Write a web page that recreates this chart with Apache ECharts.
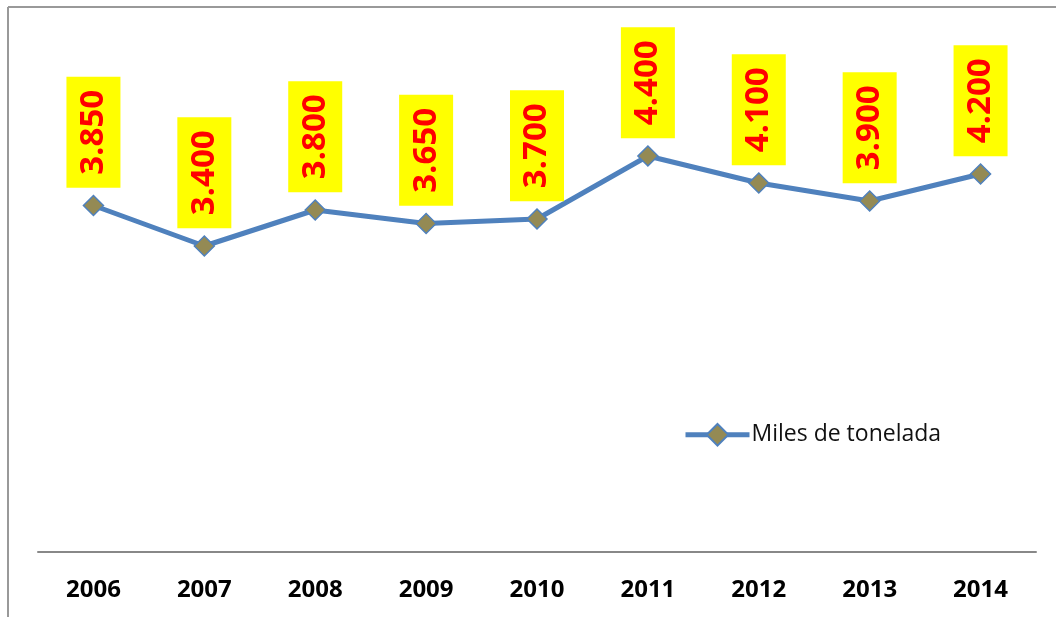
<!DOCTYPE html>
<html>
<head>
<meta charset="utf-8">
<script src="https://cdn.jsdelivr.net/npm/echarts@6/dist/echarts.min.js"></script>
<style>html,body{margin:0;padding:0;background:#fff;}#c{width:1056px;height:617px;}</style>
</head>
<body>
<div id="c"></div>
<script>
const years = ['2006','2007','2008','2009','2010','2011','2012','2013','2014'];
const values = [3.85, 3.40, 3.80, 3.65, 3.70, 4.40, 4.10, 3.90, 4.20];
const seriesName = 'Miles de tonelada';

const chart = echarts.init(document.getElementById('c'));
chart.setOption({
  animation: false,
  backgroundColor: '#fff',
  graphic: [
    { type: 'line', shape: { x1: 8, y1: 7, x2: 8, y2: 617 }, style: { stroke: '#999', lineWidth: 2 } },
    { type: 'line', shape: { x1: 8, y1: 7, x2: 1056, y2: 7 }, style: { stroke: '#999', lineWidth: 2 } }
  ],
  grid: { left: 38, right: 20, top: 102, bottom: 65 },
  legend: {
    data: [seriesName],
    left: 678, top: 418,
    itemWidth: 64, itemHeight: 27, itemGap: 0,
    lineStyle: { width: 5 },
    textStyle: { fontFamily: 'Open Sans', fontSize: 23, color: '#111', padding: [0,0,0,-3] }
  },
  xAxis: {
    type: 'category',
    data: years,
    boundaryGap: true,
    axisLine: { lineStyle: { color: '#888', width: 2 } },
    axisTick: { show: false },
    axisLabel: { fontFamily: 'Open Sans', fontWeight: 'bold', fontSize: 24, color: '#000', margin: 26 }
  },
  yAxis: {
    type: 'value', min: 0, max: 5,
    show: false, splitLine: { show: false }
  },
  series: [{
    name: seriesName,
    type: 'line',
    data: values,
    symbol: 'diamond',
    symbolSize: 20,
    lineStyle: { color: '#4F81BD', width: 5 },
    itemStyle: { color: '#948A54', borderColor: '#4F81BD', borderWidth: 1.5 },
    label: {
      show: true,
      position: 'top',
      distance: 7,
      rotate: 90,
      align: 'left',
      verticalAlign: 'middle',
      formatter: p => p.value.toFixed(3),
      fontFamily: 'Open Sans',
      fontWeight: 'bold',
      fontSize: 33,
      lineHeight: 33,
      color: '#FF0000',
      backgroundColor: '#FFFF00',
      padding: [11, 13, 10, 13]
    }
  }]
});
</script>
</body>
</html>
